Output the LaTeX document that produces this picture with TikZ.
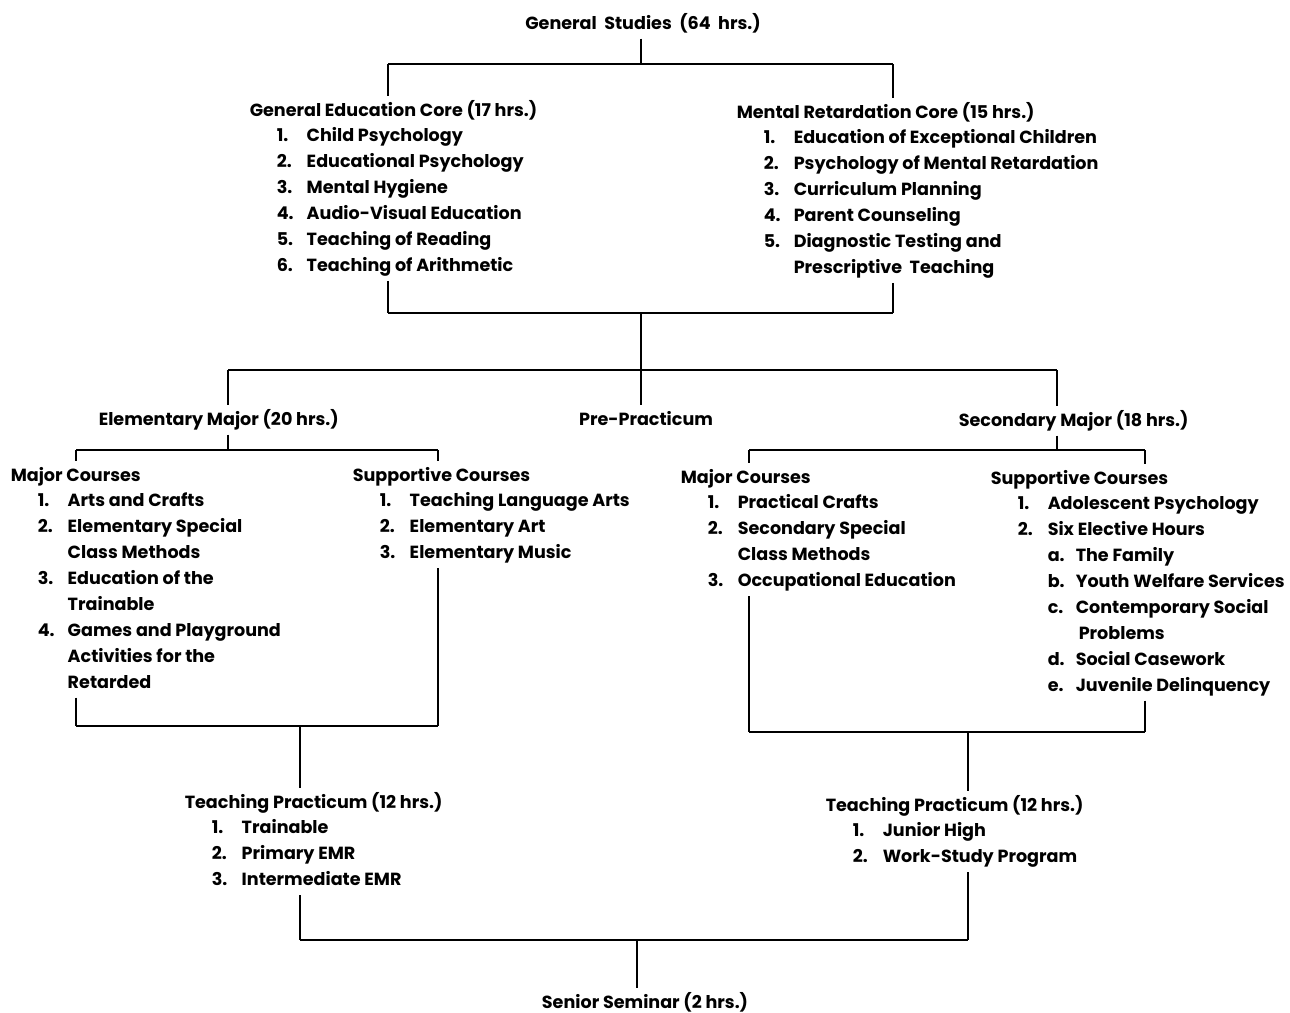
\documentclass[tikz,border=0pt]{standalone}
\usepackage{fontspec}
\setmainfont{Poppins}
\usepackage{tikz}
\usetikzlibrary{positioning}
\tikzset{blk/.style={font=\fontsize{10}{14.74}\selectfont\bfseries,inner sep=0pt,outer sep=1pt,anchor=base west},
         ttl/.style={blk,anchor=base},
         bus/.style={line width=1.6pt},
         stub/.style={line width=0.9pt}}
\newcommand{\rows}[1]{\begin{tabular}[t]{@{}l@{}}#1\end{tabular}}
\newcommand{\itm}[1]{\hspace*{0.54cm}\makebox[0.6cm][l]{#1}}
\newcommand{\subitm}[1]{\hspace*{1.14cm}\makebox[0.56cm][l]{#1}}

\begin{document}
\begin{tikzpicture}[x=0.02cm,y=-0.02cm]
    \useasboundingbox[fill=white] (0,0) rectangle (1290,1012);

    \node[ttl] (gs) at (643,29) {\rows{General\ \ Studies\ \ (64\ \ hrs.)}};
    \node[blk] (gec) at (248,116) {\rows{General Education Core (17 hrs.)\\
        \itm{1.}Child Psychology\\
        \itm{2.}Educational Psychology\\
        \itm{3.}Mental Hygiene\\
        \itm{4.}Audio-Visual Education\\
        \itm{5.}Teaching of Reading\\
        \itm{6.}Teaching of Arithmetic}};
    \node[blk] (mrc) at (735,118) {\rows{Mental Retardation Core (15 hrs.)\\
        \itm{1.}Education of Exceptional Children\\
        \itm{2.}Psychology of Mental Retardation\\
        \itm{3.}Curriculum Planning\\
        \itm{4.}Parent Counseling\\
        \itm{5.}Diagnostic Testing and\\
        \itm{}Prescriptive\ \ Teaching}};

    \node[blk] (em) at (97,425) {\rows{Elementary Major (20 hrs.)}};
    \node[ttl] (pp) at (646,425) {\rows{Pre-Practicum}};
    \node[blk] (sm) at (957,426) {\rows{Secondary Major (18 hrs.)}};

    \node[blk] (emc) at (9,481) {\rows{Major Courses\\
        \itm{1.}Arts and Crafts\\
        \itm{2.}Elementary Special\\
        \itm{}Class Methods\\
        \itm{3.}Education of the\\
        \itm{}Trainable\\
        \itm{4.}Games and Playground\\
        \itm{}Activities for the\\
        \itm{}Retarded}};
    \node[blk] (esc) at (351,481) {\rows{Supportive Courses\\
        \itm{1.}Teaching Language Arts\\
        \itm{2.}Elementary Art\\
        \itm{3.}Elementary Music}};
    \node[blk] (smc) at (679,483) {\rows{Major Courses\\
        \itm{1.}Practical Crafts\\
        \itm{2.}Secondary Special\\
        \itm{}Class Methods\\
        \itm{3.}Occupational Education}};
    \node[blk] (ssc) at (989,484) {\rows{Supportive Courses\\
        \itm{1.}Adolescent Psychology\\
        \itm{2.}Six Elective Hours\\
        \subitm{a.}The Family\\
        \subitm{b.}Youth Welfare Services\\
        \subitm{c.}Contemporary Social\\
        \subitm{}\hspace*{0.06cm}Problems\\
        \subitm{d.}Social Casework\\
        \subitm{e.}Juvenile Delinquency}};

    \node[blk] (etp) at (183,808) {\rows{Teaching Practicum (12 hrs.)\\
        \itm{1.}Trainable\\
        \itm{2.}Primary EMR\\
        \itm{3.}Intermediate EMR}};
    \node[blk] (stp) at (824,811) {\rows{Teaching Practicum (12 hrs.)\\
        \itm{1.}Junior High\\
        \itm{2.}Work-Study Program}};
    \node[ttl] (ss) at (645,1008) {\rows{Senior Seminar (2 hrs.)}};

    % bus corners
    \coordinate (t1l) at (388,64);  \coordinate (t1r) at (893,64);
    \coordinate (t2l) at (388,313); \coordinate (t2r) at (893,313);
    \coordinate (t2c) at (641,313); \coordinate (t3c) at (641,370);
    \coordinate (t3l) at (228,370); \coordinate (t3r) at (1057,370);
    \coordinate (e4l) at (76,450);  \coordinate (e4r) at (438,450);
    \coordinate (e5l) at (76,726);  \coordinate (e5r) at (438,726);
    \coordinate (e5c) at (300,726);
    \coordinate (s4l) at (749,450); \coordinate (s4r) at (1145,450);
    \coordinate (s5l) at (749,732); \coordinate (s5r) at (1145,732);
    \coordinate (s5c) at (968,732);
    \coordinate (b6l) at (300,940); \coordinate (b6r) at (968,940);
    \coordinate (b6c) at (637,940);

    % horizontal bars
    \draw [bus] (t1l) -- (t1r);
    \draw [bus] (t2l) -- (t2r);
    \draw [bus] (t3l) -- (t3r);
    \draw [bus] (e4l) -- (e4r);
    \draw [bus] (e5l) -- (e5r);
    \draw [bus] (s4l) -- (s4r);
    \draw [bus] (s5l) -- (s5r);
    \draw [bus] (b6l) -- (b6r);

    \draw [stub] (gs.south -| t2c) -- (t2c |- t1l);
    \draw [stub] (t1l) -- (t1l |- gec.north);
    \draw [stub] (t1r) -- (t1r |- mrc.north);
    \draw [stub] (t2l |- gec.south) -- (t2l);
    \draw [stub] (t2r |- mrc.south) -- (t2r);
    \draw [stub] (t2c) -- (t3c);
    \draw [stub] (t3l) -- (t3l |- em.north);
    \draw [stub] (t3c) -- (t3c |- pp.north);
    \draw [stub] (t3r) -- (t3r |- sm.north);

    % elementary side
    \draw [stub] (t3l |- em.south) -- (t3l |- e4l);
    \draw [stub] (e4l) -- (e4l |- emc.north);
    \draw [stub] (e4r) -- (e4r |- esc.north);
    \draw [stub] (e5l |- emc.south) -- (e5l);
    \draw [stub] (e5r |- esc.south) -- (e5r);
    \draw [stub] (e5c) -- (e5c |- etp.north);

    % secondary side
    \draw [stub] (t3r |- sm.south) -- (t3r |- s4l);
    \draw [stub] (s4l) -- (s4l |- smc.north);
    \draw [stub] (s4r) -- (s4r |- ssc.north);
    \draw [stub] (s5l |- smc.south) -- (s5l);
    \draw [stub] (s5r |- ssc.south) -- (s5r);
    \draw [stub] (s5c) -- (s5c |- stp.north);

    \draw [stub] (b6l |- etp.south) -- (b6l);
    \draw [stub] (b6r |- stp.south) -- (b6r);
    \draw [stub] (b6c) -- (b6c |- ss.north);
\end{tikzpicture}
\end{document}
